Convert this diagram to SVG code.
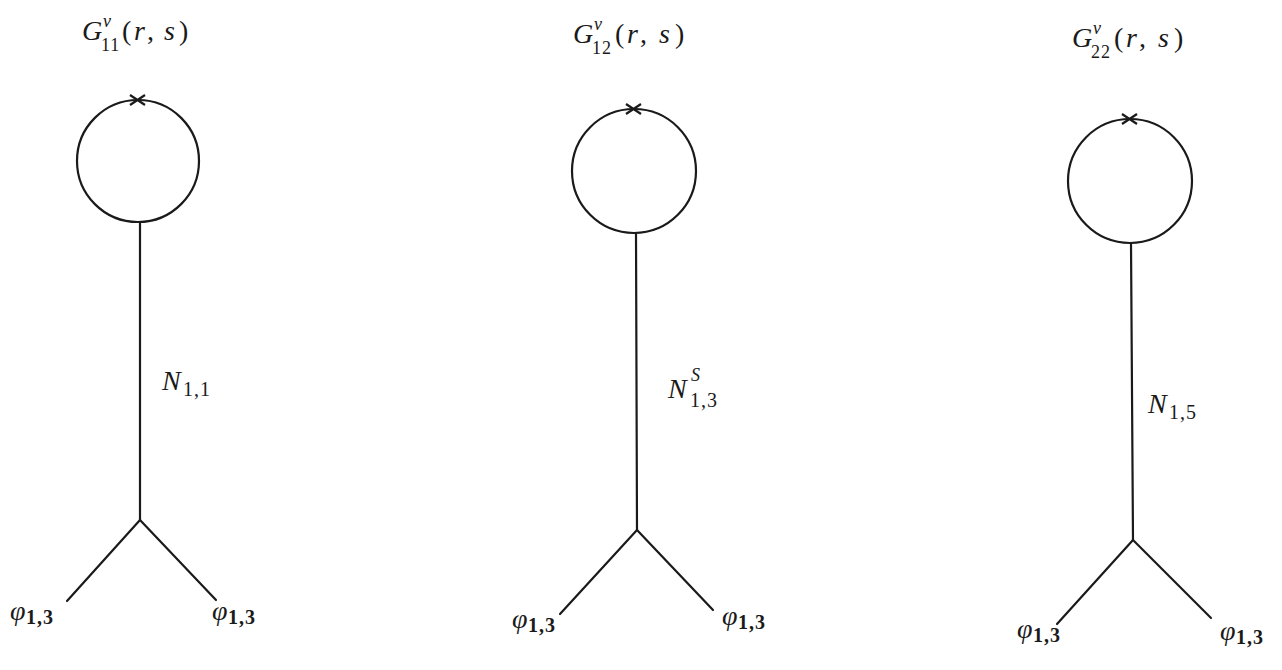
<svg xmlns="http://www.w3.org/2000/svg" width="1282" height="670" viewBox="0 0 1282 670">
<style>
.bg{fill:#ffffff}
.ln{stroke:#1a1a1a;stroke-width:2.2;fill:none;stroke-linecap:round}
.cx{stroke:#1a1a1a;stroke-width:2.2;fill:none}
.t{font-family:"Liberation Serif","DejaVu Serif",serif;font-size:28px;fill:#1a1a1a}
.i{font-style:italic}
.sm{font-size:20px;letter-spacing:1px}
.ss{font-size:18px;letter-spacing:1px}
.sb{font-size:20px;font-weight:bold;letter-spacing:1px}
</style>
<rect class="bg" x="0" y="0" width="1282" height="670"/>

<g id="connectors">
  <line class="ln" x1="140" y1="222" x2="140" y2="520"/>
  <line class="ln" x1="140" y1="520" x2="67" y2="601"/>
  <line class="ln" x1="140" y1="520" x2="216" y2="600"/>

  <line class="ln" x1="636" y1="233" x2="637" y2="530"/>
  <line class="ln" x1="637" y1="530" x2="560" y2="614"/>
  <line class="ln" x1="637" y1="530" x2="713" y2="610"/>

  <line class="ln" x1="1131" y1="243" x2="1133" y2="540"/>
  <line class="ln" x1="1133" y1="540" x2="1057" y2="624"/>
  <line class="ln" x1="1133" y1="540" x2="1211" y2="618"/>
</g>

<g id="loop1">
  <circle class="ln" cx="138" cy="161" r="61"/>
  <path class="cx" d="M130,95 L145,105 M130,105 L145,95"/>
  <text class="t i" x="82" y="40">G</text>
  <text class="t i ss" x="103" y="27">ν</text>
  <text class="t ss" x="101" y="51">11</text>
  <text class="t" x="122" y="40">(</text>
  <text class="t i" x="134" y="40">r</text>
  <text class="t" x="147" y="40">,</text>
  <text class="t i" x="164" y="40">s</text>
  <text class="t" x="179" y="40">)</text>
</g>

<g id="loop2">
  <circle class="ln" cx="634" cy="171" r="62"/>
  <path class="cx" d="M626,104 L641,114 M626,114 L641,104"/>
  <text class="t i" x="573" y="43">G</text>
  <text class="t i ss" x="594" y="30">ν</text>
  <text class="t ss" x="592" y="54">12</text>
  <text class="t" x="615" y="43">(</text>
  <text class="t i" x="627" y="43">r</text>
  <text class="t" x="640" y="43">,</text>
  <text class="t i" x="659" y="43">s</text>
  <text class="t" x="675" y="43">)</text>
</g>

<g id="loop3">
  <circle class="ln" cx="1130" cy="181" r="62"/>
  <path class="cx" d="M1122,114 L1137,124 M1122,124 L1137,114"/>
  <text class="t i" x="1072" y="47">G</text>
  <text class="t i ss" x="1093" y="34">ν</text>
  <text class="t ss" x="1091" y="58">22</text>
  <text class="t" x="1114" y="47">(</text>
  <text class="t i" x="1126" y="47">r</text>
  <text class="t" x="1139" y="47">,</text>
  <text class="t i" x="1158" y="47">s</text>
  <text class="t" x="1174" y="47">)</text>
</g>

<g id="label-N11">
  <text class="t i" x="162" y="390">N</text>
  <text class="t sm" x="183" y="396">1,1</text>
</g>
<g id="label-N13S">
  <text class="t i" x="668" y="398">N</text>
  <text class="t i ss" x="691" y="381">S</text>
  <text class="t sm" x="690" y="407">1,3</text>
</g>
<g id="label-N15">
  <text class="t i" x="1148" y="413">N</text>
  <text class="t sm" x="1169" y="419">1,5</text>
</g>

<g id="phi1L"><text class="t i" x="10" y="620">φ</text><text class="t sb" x="26" y="624">1,3</text></g>
<g id="phi1R"><text class="t i" x="212" y="620">φ</text><text class="t sb" x="228" y="624">1,3</text></g>
<g id="phi2L"><text class="t i" x="512" y="628">φ</text><text class="t sb" x="528" y="632">1,3</text></g>
<g id="phi2R"><text class="t i" x="722" y="625">φ</text><text class="t sb" x="738" y="629">1,3</text></g>
<g id="phi3L"><text class="t i" x="1017" y="638">φ</text><text class="t sb" x="1033" y="642">1,3</text></g>
<g id="phi3R"><text class="t i" x="1220" y="640">φ</text><text class="t sb" x="1236" y="644">1,3</text></g>
</svg>
